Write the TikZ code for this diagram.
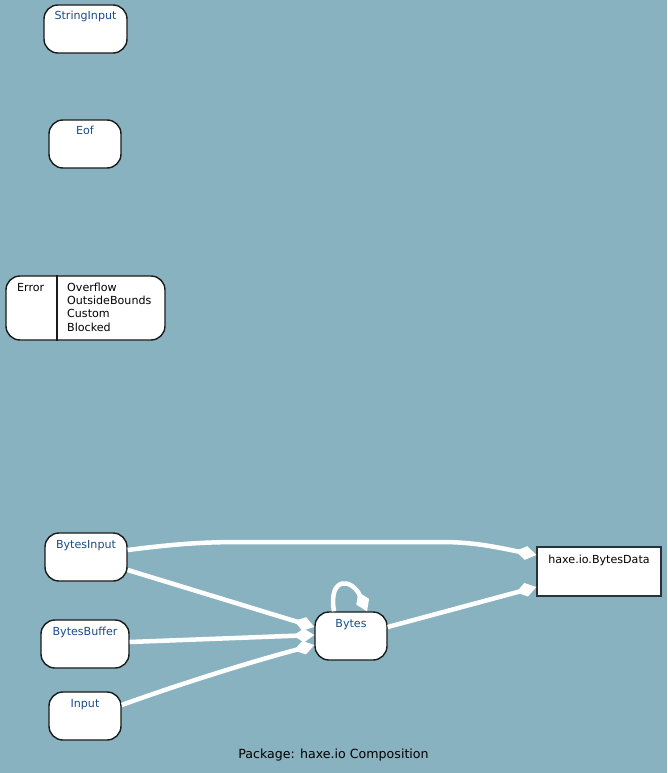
\documentclass[tikz,border=0pt]{standalone}
\usepackage{fontspec}
\setmainfont{DejaVu Sans}
\usetikzlibrary{arrows.meta}

\definecolor{pkgbg}{RGB}{136,178,192}
\definecolor{clsname}{RGB}{24,76,136}
\definecolor{clsborder}{RGB}{26,26,26}
\definecolor{extborder}{RGB}{40,50,55}

\tikzset{
  classbox/.style={draw=clsborder, line width=1.4pt, fill=white,
    rounded corners=14pt, inner xsep=0pt, inner ysep=0pt,
    minimum width=#1, text height=15pt, text depth=33pt,
    text=clsname, font=\fontsize{11.1}{13.4}\selectfont},
  extbox/.style={draw=extborder, line width=1.4pt, fill=white,
    inner xsep=0pt, inner ysep=0pt, minimum width=#1,
    text height=16pt, text depth=33pt,
    font=\fontsize{11.1}{13.4}\selectfont},
  plain/.style={inner sep=0pt, font=\fontsize{11.1}{13.4}\selectfont},
  comp/.style={draw=white, line width=4.5pt,
    -{Diamond[length=21pt,width=14pt,fill=white]}},
}

\begin{document}
\begin{tikzpicture}[x=1pt,y=-1pt]
  \fill[pkgbg] (0,0) rectangle (667,773);
  \useasboundingbox (0,0) rectangle (667,773);

  % classes of the package
  \node[classbox=83pt] (si) at (85.5,29) {StringInput};
  \node[classbox=72pt] (eof) at (85,144) {Eof};

  % enum Error with its constructors
  \node[draw=clsborder, line width=1.4pt, fill=white, rounded corners=14pt,
        minimum width=159pt, minimum height=64pt, inner sep=0pt] (err) at (85.5,308) {};
  \coordinate (errdiv) at (57,308);
  \draw[clsborder, line width=1.4pt] (err.north -| errdiv) -- (err.south -| errdiv);
  \node[plain, anchor=base west] (errname) at (17,291) {Error};
  \node[plain, anchor=base west] (c1) at (67,291) {Overflow};
  \node[plain, anchor=base west] (c2) at (67,304.4) {OutsideBounds};
  \node[plain, anchor=base west] (c3) at (67,317.8) {Custom};
  \node[plain, anchor=base west] (c4) at (67,331.2) {Blocked};

  \node[classbox=82pt] (bi) at (86,557) {BytesInput};
  \node[classbox=88pt] (bb) at (85,644) {BytesBuffer};
  \node[classbox=72pt] (inp) at (85,716) {Input};
  \node[classbox=72pt] (by) at (351,636) {Bytes};
  \node[extbox=124pt] (bd) at (599,571.5) {haxe.io.BytesData};

  % composition links
  \draw[comp] ([yshift=7pt]bi.east) .. controls (190,542) and (215,542) .. (255,542)
    -- (440,542) .. controls (475,542) and (495,547) .. ([yshift=16.5pt]bd.west);
  \draw[comp] ([yshift=-13pt]bi.east) -- ([yshift=9pt]by.west);
  \draw[comp] ([yshift=2pt]bb.east) -- ([yshift=1pt]by.west);
  \draw[comp] ([yshift=11pt]inp.east) .. controls (180,684) and (250,662) .. ([yshift=-9pt]by.west);
  \draw[comp] ([yshift=9pt]by.east) -- ([yshift=-15.5pt]bd.west);
  \draw[comp] ([xshift=-17pt]by.north) .. controls (328,576) and (352,578) .. ([xshift=16pt]by.north);

  % caption
  \node[inner sep=0pt, anchor=base, font=\fontsize{12.6}{15}\selectfont] (caption)
    at (333.5,758) {Package: haxe.io Composition};
\end{tikzpicture}
\end{document}
